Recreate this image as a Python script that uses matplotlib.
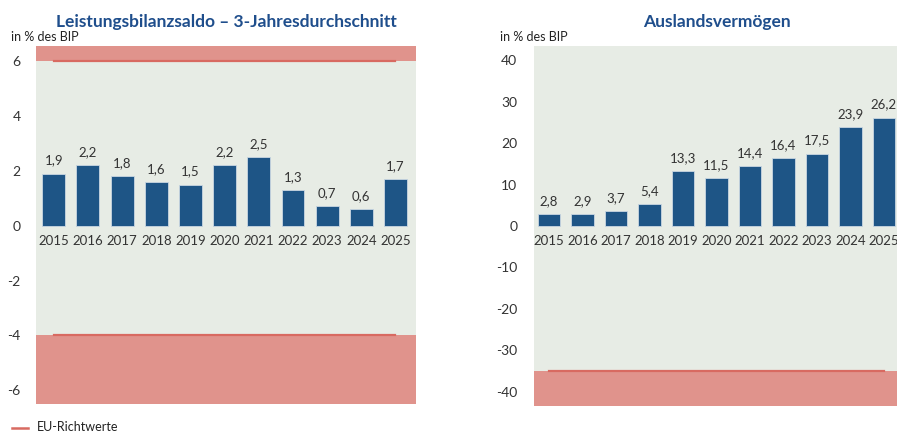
import matplotlib
matplotlib.use("Agg")
import matplotlib.pyplot as plt
from matplotlib.lines import Line2D

plt.rcParams['font.family'] = ['Lato', 'DejaVu Sans']

years = ["2015", "2016", "2017", "2018", "2019", "2020", "2021", "2022", "2023", "2024", "2025"]
lb_values = [1.9, 2.2, 1.8, 1.6, 1.5, 2.2, 2.5, 1.3, 0.7, 0.6, 1.7]
av_values = [2.8, 2.9, 3.7, 5.4, 13.3, 11.5, 14.4, 16.4, 17.5, 23.9, 26.2]
lb_limits = [6, -4]
av_limit = -35
lb_ticks = [6, 4, 2, 0, -2, -4, -6]
av_ticks = [40, 30, 20, 10, 0, -10, -20, -30, -40]

BG = "#E7ECE5"
BAR = "#1E5586"
RED_FILL = "#E0938C"
RED_LINE = "#D86A61"
TITLE = "#1F4E8C"
TXT = "#333333"

W, H = 897, 434
fig = plt.figure(figsize=(W / 100, H / 100), dpi=100)

def ax_at(x0, y0, x1, y1):
    return fig.add_axes([x0 / W, 1 - y1 / H, (x1 - x0) / W, (y1 - y0) / H])

def fmt(v):
    return f"{v:.1f}".replace(".", ",")

def draw(ax, vals, ylim, xlim, ticks, off, bands, lines):
    x = list(range(len(years)))
    ax.set_facecolor(BG)
    for lo, hi in bands:
        ax.axhspan(lo, hi, color=RED_FILL, lw=0, zorder=0.5)
    for y in lines:
        ax.plot([x[0], x[-1]], [y, y], color=RED_LINE, lw=1.6, zorder=1)
    ax.bar(x, vals, width=0.67, color=BAR, edgecolor="#C9D6E2", linewidth=0.6, zorder=2)
    for xi, v, yr in zip(x, vals, years):
        ax.annotate(fmt(v), (xi, v), xytext=(0, 5), textcoords="offset points",
                    ha="center", va="bottom", fontsize=9.5, color=TXT)
        ax.annotate(yr, (xi, 0), xytext=(0, -6.5), textcoords="offset points",
                    ha="center", va="top", fontsize=9.5, color=TXT, annotation_clip=False)
    ax.set_xlim(*xlim)
    ax.set_ylim(*ylim)
    ax.set_yticks(ticks)
    ax.set_yticklabels([str(t) for t in ticks])
    ax.set_xticks([])
    ax.tick_params(axis="y", length=0, pad=off, labelsize=10, labelcolor=TXT)
    for s in ax.spines.values():
        s.set_visible(False)

ax1 = ax_at(36, 46, 416, 404)
draw(ax1, lb_values, (-6.5, 6.55), (-0.52, 10.6), lb_ticks, 11,
     [(6, 6.55), (-6.5, -4)], lb_limits)
ax1.set_title("Leistungsbilanzsaldo – 3-Jahresdurchschnitt", fontsize=12.5,
              fontweight="bold", color=TITLE, pad=14)

ax2 = ax_at(534, 46, 899, 406)
draw(ax2, av_values, (-43.5, 43.5), (-0.45, 10.45), av_ticks, 12,
     [(-43.5, av_limit)], [av_limit])
ax2.set_title("Auslandsvermögen", fontsize=12.5, fontweight="bold", color=TITLE, pad=14)

fig.text(11 / W, 1 - 37 / H, "in % des BIP", fontsize=9, color="#222222", va="center", ha="left")
fig.text(500 / W, 1 - 37 / H, "in % des BIP", fontsize=9, color="#222222", va="center", ha="left")

fig.add_artist(Line2D([12 / W, 28 / W], [1 - 428 / H, 1 - 428 / H], color=RED_LINE, lw=1.8))
fig.text(37 / W, 1 - 427 / H, "EU-Richtwerte", fontsize=9, color="#222222", va="center", ha="left")

fig.savefig("out.png", dpi=100)
